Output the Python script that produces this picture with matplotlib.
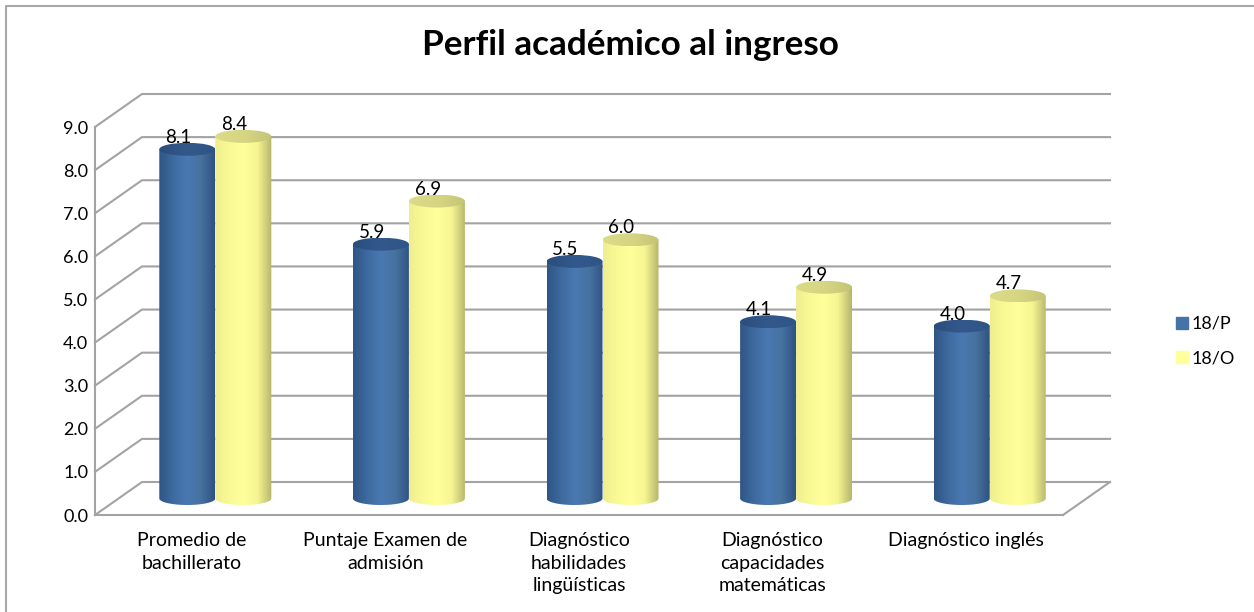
import numpy as np
import matplotlib
matplotlib.use('Agg')
import matplotlib.pyplot as plt
from matplotlib.colors import LinearSegmentedColormap
from matplotlib.lines import Line2D
from matplotlib.patches import Ellipse, Patch, PathPatch
from matplotlib.path import Path

plt.rcParams['font.family'] = ['Lato', 'DejaVu Sans']

categorias = ['Promedio de\nbachillerato', 'Puntaje Examen de\nadmisión',
              'Diagnóstico\nhabilidades\nlingüísticas', 'Diagnóstico\ncapacidades\nmatemáticas',
              'Diagnóstico inglés']
serie_p = [8.1, 5.9, 5.5, 4.1, 4.0]
serie_o = [8.4, 6.9, 6.0, 4.9, 4.7]
ticks = [0, 1, 2, 3, 4, 5, 6, 7, 8, 9]

W, H = 1254, 612
X0, X1 = 95, 1063      # frente del piso
Y0, Y9 = 515, 127
fig = plt.figure(figsize=(W / 100, H / 100), dpi=100)
ax = fig.add_axes([X0 / W, 1 - Y0 / H, (X1 - X0) / W, (Y0 - Y9) / H])
ax.set_xlim(0, 5)
ax.set_ylim(0, 9)
px_x = 5 / (X1 - X0)
px_y = 9 / (Y0 - Y9)

gris = '#a3a3a3'
dx, dy = 47 * px_x, 33 * px_y

# paredes 3D
for t in ticks:
    ax.plot([0, dx, 5 + dx], [t, t + dy, t + dy], color=gris, lw=1.5, clip_on=False, zorder=1)
ax.plot([5, 5 + dx], [0, dy], color=gris, lw=1.5, clip_on=False, zorder=1)

for s in ['top', 'right']:
    ax.spines[s].set_visible(False)
for s in ['left', 'bottom']:
    ax.spines[s].set_color(gris)
    ax.spines[s].set_linewidth(1.5)

ax.set_yticks(ticks)
ax.set_yticklabels([f'{t:.1f}' for t in ticks], fontsize=13, color='black')
ax.set_xticks(np.arange(5) + 0.5)
ax.set_xticklabels(categorias, fontsize=14, linespacing=1.42, color='black')
ax.tick_params(axis='both', length=0)
ax.tick_params(axis='x', pad=12)
ax.tick_params(axis='y', pad=5)

cm_p = LinearSegmentedColormap.from_list('p', ['#2f5585', '#3d6a9f', '#4a78b2', '#46729f', '#2f5282'])
cm_o = LinearSegmentedColormap.from_list('o', ['#eeee90', '#fafa94', '#ffff9c', '#f5f592', '#b5b56c'])
cm_tp = LinearSegmentedColormap.from_list('tp', ['#2a4d7c', '#33598c', '#2f5486'])
cm_to = LinearSegmentedColormap.from_list('to', ['#dcdc88', '#d6d682', '#c4c476'])
grad = np.linspace(0, 1, 256).reshape(1, -1)

r = 28 * px_x      # radio del cilindro
ry = 6.5 * px_y
base_y = dy / 2
base_x = dx / 2


def cilindro(xc, v, cmap, cmap_tapa, z):
    t = np.linspace(np.pi, 2 * np.pi, 40)
    xs = np.r_[xc - r, xc + r * np.cos(t), xc + r, xc - r]
    ys = np.r_[base_y + v, base_y + ry * np.sin(t), base_y + v, base_y + v]
    forma = PathPatch(Path(np.c_[xs, ys]), transform=ax.transData, fc='none', ec='none')
    ax.add_patch(forma)
    im = ax.imshow(grad, extent=[xc - r, xc + r, base_y - ry, base_y + v], cmap=cmap,
                   aspect='auto', zorder=z, interpolation='bilinear')
    im.set_clip_path(forma)
    tapa = Ellipse((xc, base_y + v), 2 * r, 2 * ry, fc='none', ec='none')
    ax.add_patch(tapa)
    im2 = ax.imshow(grad, extent=[xc - r, xc + r, base_y + v - ry, base_y + v + ry], cmap=cmap_tapa,
                    aspect='auto', zorder=z + 0.1, interpolation='bilinear', clip_on=True)
    im2.set_clip_path(tapa)


for i in range(5):
    c = i + 0.5 + base_x
    cilindro(c - r, serie_p[i], cm_p, cm_tp, 3)
    cilindro(c + r, serie_o[i], cm_o, cm_to, 4)
    ax.annotate(f'{serie_p[i]:.1f}', (c - r, serie_p[i] + base_y), xytext=(-9, 12), textcoords='offset pixels',
                ha='center', va='center', fontsize=13.5, zorder=6, annotation_clip=False)
    ax.annotate(f'{serie_o[i]:.1f}', (c + r, serie_o[i] + base_y), xytext=(-9, 12), textcoords='offset pixels',
                ha='center', va='center', fontsize=13.5, zorder=6, annotation_clip=False)

ax.set_xlim(0, 5)
ax.set_ylim(0, 9)

fig.text(630.5 / W, 1 - 45 / H, 'Perfil académico al ingreso', ha='center', va='center',
         fontsize=25.3, fontweight='bold')

fig.legend(handles=[Patch(color='#4572a7', label='18/P'), Patch(color='#ffff9c', label='18/O')],
           loc='center left', bbox_to_anchor=(1160 / W, 1 - 341 / H), frameon=False, fontsize=13,
           handlelength=0.66, handleheight=0.66, handletextpad=0.2, labelspacing=1.0)

# borde del grafico: solo arriba e izquierda
fig.add_artist(Line2D([6 / W, 6 / W, 1 - 1 / W], [0, 1 - 6 / H, 1 - 6 / H], transform=fig.transFigure,
                      color='#a8a8a8', lw=1.5))

fig.savefig('out.png', dpi=100)
plt.close()
